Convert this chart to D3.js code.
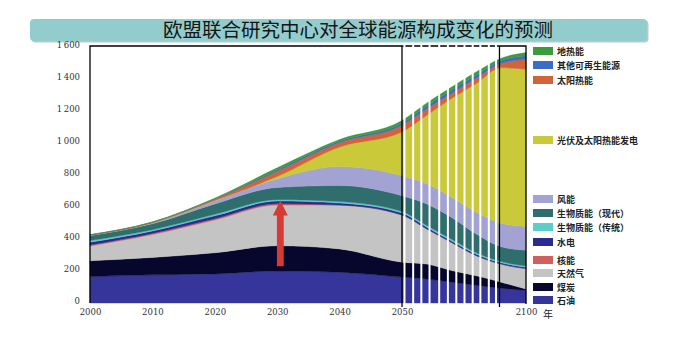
<!DOCTYPE html>
<html>
<head>
    <meta charset="utf-8">
    <script src="https://cdn.jsdelivr.net/npm/d3@7/dist/d3.min.js"></script>
</head>
<body style="margin:0;background:#fff">
    <style type="text/css">
        .axis text {
            font-family: "DejaVu Serif", serif;
            font-size: 8.5px;
            fill: #333;
        }
        .legend text {
            font-family: "Noto Sans CJK SC", sans-serif;
            font-size: 9px;
            font-weight: bold;
            fill: #222;
        }
    </style>
    <svg id="chart"></svg>
    <script>
        // years and layer values (bottom to top)
        var years = [2000, 2010, 2020, 2030, 2040, 2050, 2060, 2070, 2080, 2090, 2100];
        var oil = [165, 176, 182, 200, 192, 162, 150, 130, 110, 92, 80];
        var coal = [99, 109, 132, 158, 146, 93, 93, 73, 60, 38, 7];
        var gas = [92, 143, 205, 254, 274, 295, 220, 175, 126, 113, 128];
        var nuclear = [6, 7, 8, 8, 0, 0, 0, 0, 0, 0, 0];
        var hydro = [18, 15, 18, 17, 13, 12, 11, 10, 9, 8, 9];
        var bioTrad = [10, 8, 9, 9, 9, 10, 10, 10, 9, 8, 8];
        var bioModern = [32, 37, 65, 76, 100, 98, 135, 137, 117, 92, 98];
        var wind = [1, 5, 19, 54, 119, 125, 126, 126, 136, 147, 148];
        var solarPower = [0, 0, 2, 14, 122, 274, 428, 617, 805, 972, 982];
        var solarThermal = [2, 4, 10, 32, 28, 42, 40, 32, 33, 28, 63];
        var otherRenew = [1, 1, 2, 10, 9, 14, 19, 22, 20, 17, 22];
        var geothermal = [2, 2, 3, 13, 10, 15, 18, 18, 20, 15, 20];

        var seriesNames = ["石油", "煤炭", "天然气", "核能", "水电", "生物质能（传统）", "生物质能（现代）",
            "风能", "光伏及太阳热能发电", "太阳热能", "其他可再生能源", "地热能"];
        var seriesValues = [oil, coal, gas, nuclear, hydro, bioTrad, bioModern, wind, solarPower,
            solarThermal, otherRenew, geothermal];
        var colors = ["#35359c", "#07072e", "#c4c4c4", "#d0605e", "#2b2b8f", "#5ccccc", "#2f6e6c",
            "#a3a3d3", "#c9c93a", "#d2643a", "#3a6cc8", "#3c9b3c"];

        var yTicks = [0, 200, 400, 600, 800, 1000, 1200, 1400, 1600];
        var xTicks = [2000, 2010, 2020, 2030, 2040, 2050, 2100];
        var title = "欧盟联合研究中心对全球能源构成变化的预测";

        // hatched years after 2050 and the two black marker lines
        var stripeYears = [2051, 2054.5, 2057.8, 2061.1, 2065, 2068.5, 2071.9, 2075.2, 2078.5, 2081.6, 2085, 2087.9];
        var markerYears = [2050, 2089.3];
        var arrow = {year: 2030.5, from: 230, to: 640};

        var width = 684, height = 351;
        var svg = d3.select("#chart")
            .attr("width", width)
            .attr("height", height);

        // x axis is compressed after 2050
        var x = d3.scaleLinear()
            .domain([2000, 2050, 2100])
            .range([90, 402, 526]);
        var y = d3.scaleLinear()
            .domain([0, 1600])
            .range([303, 47]);

        // title banner
        svg.append("rect")
            .attr("x", 31.5).attr("y", 20.5)
            .attr("width", 617).attr("height", 22)
            .attr("rx", 4)
            .attr("fill", "#b7c9c9");
        svg.append("rect")
            .attr("x", 30).attr("y", 19)
            .attr("width", 617).attr("height", 22)
            .attr("rx", 4)
            .attr("fill", "#92cccc");
        svg.append("text")
            .attr("x", 358)
            .attr("y", 37)
            .attr("text-anchor", "middle")
            .style("font-family", "'Noto Sans CJK SC', sans-serif")
            .style("font-size", "19.5px")
            .style("fill", "#151515")
            .text(title);

        var table = years.map(function(yr, i) {
            var row = {year: yr};
            seriesNames.forEach(function(n, j) { row[n] = seriesValues[j][i]; });
            return row;
        });

        var stack = d3.stack().keys(seriesNames)(table);

        var area = d3.area()
            .curve(d3.curveMonotoneX)
            .x(function(d) { return x(d.data.year); })
            .y0(function(d) { return y(d[0]); })
            .y1(function(d) { return y(d[1]); });

        svg.append("g")
            .selectAll("path")
            .data(stack)
            .enter()
            .append("path")
            .attr("d", area)
            .attr("fill", function(d, i) { return colors[i]; })
            .attr("stroke", function(d, i) { return colors[i]; })
            .attr("stroke-width", 0.4);

        // red arrow
        var ax = x(arrow.year), ay0 = y(arrow.from), ay1 = y(arrow.to);
        svg.append("path")
            .attr("d", "M" + (ax - 3.4) + "," + ay0 + "V" + (ay1 + 15) + "H" + (ax - 7.5) +
                "L" + ax + "," + ay1 + "L" + (ax + 7.5) + "," + (ay1 + 15) + "H" + (ax + 3.4) + "V" + ay0 + "Z")
            .attr("fill", "#d63a32");

        // frame
        svg.append("path")
            .attr("d", "M" + x(2000) + "," + y(0) + "V" + 46 + "H" + x(2100) + "V" + (y(0) + 1))
            .attr("fill", "none")
            .attr("stroke", "#000")
            .attr("stroke-width", 1.3);

        // white stripes
        svg.append("g")
            .selectAll("rect")
            .data(stripeYears)
            .enter()
            .append("rect")
            .attr("x", function(d) { return x(d) - 1; })
            .attr("y", 44)
            .attr("width", 2)
            .attr("height", y(0) - 44 + 1)
            .attr("fill", "#fff");

        svg.append("g")
            .selectAll("line")
            .data(markerYears)
            .enter()
            .append("line")
            .attr("x1", function(d) { return x(d); })
            .attr("x2", function(d) { return x(d); })
            .attr("y1", 46)
            .attr("y2", y(0) + 4)
            .attr("stroke", "#000")
            .attr("stroke-width", 1.3);

        // axes
        var fmt = d3.formatLocale({decimal: ".", thousands: "\u2009", grouping: [3], currency: ["", ""]}).format(",");
        var yAxis = d3.axisLeft(y)
            .tickValues(yTicks)
            .tickSize(0)
            .tickPadding(10)
            .tickFormat(fmt);
        svg.append("g")
            .attr("class", "axis")
            .attr("transform", "translate(" + x(2000) + ",0)")
            .call(yAxis)
            .call(function(g) { g.select(".domain").remove(); })
            .selectAll("text")
            .attr("dy", "0.1em");

        var xAxis = d3.axisBottom(x)
            .tickValues(xTicks)
            .tickSize(0)
            .tickPadding(6)
            .tickFormat(d3.format("d"));
        svg.append("g")
            .attr("class", "axis")
            .attr("transform", "translate(0," + y(0) + ")")
            .call(xAxis)
            .call(function(g) { g.select(".domain").remove(); });

        svg.append("text")
            .attr("x", x(2100) + 22)
            .attr("y", y(0) + 15)
            .attr("text-anchor", "middle")
            .style("font-family", "'Noto Sans CJK SC', sans-serif")
            .style("font-size", "10px")
            .style("fill", "#222")
            .text("年");

        // legend, top to bottom
        var legendY = [51, 65, 80, 140, 199, 213, 227, 242, 260, 273, 287, 300];
        var legendOrder = seriesNames.slice().reverse();
        var legend = svg.append("g")
            .attr("class", "legend")
            .selectAll("g")
            .data(legendOrder)
            .enter()
            .append("g")
            .attr("transform", function(d, i) { return "translate(533," + legendY[i] + ")"; });

        legend.append("rect")
            .attr("x", 0)
            .attr("y", -4)
            .attr("width", 20)
            .attr("height", 8)
            .attr("fill", function(d) { return colors[seriesNames.indexOf(d)]; });

        legend.append("text")
            .attr("x", 24)
            .attr("y", 3.5)
            .text(function(d) { return d; });
    </script>
</body>
</html>
